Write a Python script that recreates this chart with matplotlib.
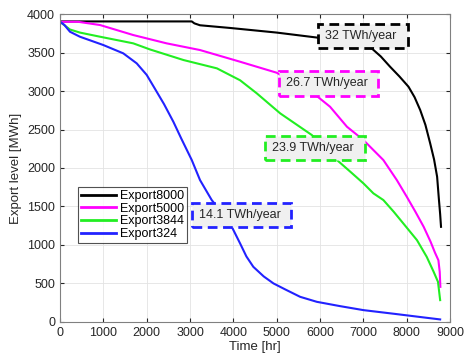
import matplotlib.pyplot as plt
from matplotlib.patches import Rectangle

plt.rcParams['font.family'] = ['Liberation Sans', 'DejaVu Sans']

# storage export level curves, hours vs MWh
hours_8000 = [0, 3040, 3100, 3230, 3925, 5000, 5960, 6600, 7190, 7400, 7615, 7830, 8040, 8180, 8310, 8430, 8540, 8630, 8700, 8740, 8770, 8790]
level_8000 = [3905, 3905, 3880, 3855, 3820, 3760, 3693, 3630, 3555, 3450, 3316, 3190, 3056, 2920, 2753, 2560, 2320, 2110, 1886, 1600, 1400, 1235]

hours_5000 = [0, 420, 925, 1690, 2460, 3230, 4155, 5000, 5925, 6230, 6620, 7000, 7460, 7770, 8000, 8200, 8390, 8550, 8650, 8730, 8760, 8775]
level_5000 = [3900, 3900, 3858, 3728, 3620, 3533, 3381, 3238, 2935, 2796, 2536, 2363, 2103, 1843, 1626, 1430, 1235, 1040, 900, 800, 650, 455]

hours_3844 = [0, 230, 460, 925, 1690, 2080, 2850, 3620, 4155, 4540, 5080, 5810, 6390, 6700, 7000, 7230, 7460, 7700, 7920, 8235, 8460, 8620, 8720, 8770]
level_3844 = [3900, 3800, 3760, 3706, 3620, 3540, 3403, 3295, 3140, 2970, 2710, 2428, 2103, 1950, 1800, 1670, 1583, 1430, 1279, 1062, 845, 650, 520, 282]

hours_324 = [0, 100, 230, 460, 1000, 1460, 1770, 2000, 2190, 2400, 2616, 2800, 3040, 3230, 3500, 3760, 3963, 4155, 4300, 4460, 4700, 4925, 5200, 5540, 5925, 6460, 7000, 7770, 8390, 8770]
level_324 = [3900, 3860, 3771, 3706, 3598, 3490, 3360, 3210, 3030, 2830, 2600, 2380, 2103, 1843, 1583, 1400, 1235, 1019, 850, 715, 590, 499, 420, 325, 260, 204, 152, 100, 57, 31]

labels = ['Export8000', 'Export5000', 'Export3844', 'Export324']
colors = ['#000000', '#ff00ff', '#22ee22', '#2222ff']

# annotation boxes: (x0, x1, y0, y1), text
notes = [
    ((5960, 8030, 3558, 3870), '32 TWh/year'),
    ((5060, 7340, 2935, 3264), '26.7 TWh/year'),
    ((4730, 7040, 2102, 2415), '23.9 TWh/year'),
    ((3040, 5330, 1235, 1547), '14.1 TWh/year'),
]

fig = plt.figure(figsize=(4.65, 3.62), dpi=100)
ax = fig.add_axes([0.129, 0.111, 0.839, 0.850])

series = [(hours_8000, level_8000), (hours_5000, level_5000),
          (hours_3844, level_3844), (hours_324, level_324)]
for (h, v), lab, c in zip(series, labels, colors):
    ax.plot(h, v, color=c, linewidth=1.5, label=lab)

for ((x0, x1, y0, y1), txt), c in zip(notes, colors):
    ax.add_patch(Rectangle((x0, y0), x1 - x0, y1 - y0, facecolor='#f0f0f0',
                           edgecolor=c, linewidth=2, linestyle=(0, (3.5, 2)), zorder=5))
    ax.text(x0 + 160, (y0 + y1) / 2, txt, fontsize=9, color='#262626',
            va='center', ha='left', zorder=6)

ax.set_xlim(0, 9000)
ax.set_ylim(0, 4000)
ax.set_xticks(range(0, 9001, 1000))
ax.set_yticks(range(0, 4001, 500))
ax.tick_params(direction='in', labelsize=9, colors='#262626', length=3,
               top=True, right=True, labelcolor='#262626')
ax.grid(True, color='#e3e3e3', linewidth=0.6)
ax.set_axisbelow(True)
for s in ax.spines.values():
    s.set_color('#808080')
    s.set_linewidth(0.8)

ax.set_xlabel('Time [hr]', fontsize=9.5, color='#262626', labelpad=2)
ax.set_ylabel('Export level [MWh]', fontsize=9.5, color='#262626', labelpad=4)

leg = ax.legend(loc='upper left', bbox_to_anchor=(0.046, 0.438), fontsize=9,
                frameon=True, fancybox=False, edgecolor='#262626',
                handlelength=2.8, handletextpad=0.3, borderpad=0.25,
                labelspacing=0.05, borderaxespad=0)
for line in leg.get_lines():
    line.set_linewidth(2)
leg.get_frame().set_linewidth(0.8)

fig.savefig('out.png', dpi=100)
